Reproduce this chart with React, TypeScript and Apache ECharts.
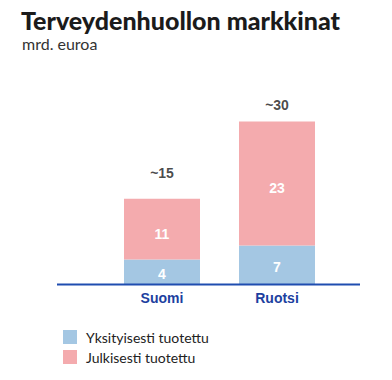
import React, { useEffect, useRef } from "react";
import * as echarts from "echarts";

const categories = ["Suomi", "Ruotsi"];
const privateValues = [4.6, 7.2];
const publicValues = [11.2, 22.8];
const privateLabels = ["4", "7"];
const publicLabels = ["11", "23"];
const totalValues = [15.8, 30];
const totalLabels = ["~15", "~30"];
const totalLabelDistance = [18, 9];
const seriesNames = ["Yksityisesti tuotettu", "Julkisesti tuotettu"];

export default function App() {
  const ref = useRef<HTMLDivElement>(null);
  useEffect(() => {
    if (!ref.current) return;
    const chart = echarts.init(ref.current, null, { renderer: "svg" });
    const blue = "#a4c7e3";
    const pink = "#f4abae";
    chart.setOption({
      animation: false,
      title: [
        {
          text: "Terveydenhuollon markkinat",
          left: 16,
          top: 2,
          textStyle: { fontFamily: "Lato", fontSize: 25, fontWeight: 900, color: "#1b1b1b" },
        },
        {
          text: "mrd. euroa",
          left: 17,
          top: 30,
          textStyle: { fontFamily: "Lato", fontSize: 16, fontWeight: "normal", color: "#333" },
        },
      ],
      legend: {
        orient: "vertical",
        left: 58,
        top: 325,
        itemWidth: 14,
        itemHeight: 14,
        itemGap: 6,
        icon: "rect",
        data: seriesNames,
        textStyle: { fontFamily: "Lato", fontSize: 14, color: "#222", padding: [0, 0, 0, 4] },
      },
      grid: { left: 104.5, right: 392 - 334.5, top: 121.5, bottom: 380 - 284.5 },
      xAxis: {
        type: "category",
        data: categories,
        axisLine: { show: false },
        axisTick: { show: false },
        axisLabel: {
          margin: 6,
          color: "#1d3f9f",
          fontFamily: "Liberation Sans",
          fontWeight: "bold",
          fontSize: 14,
        },
      },
      yAxis: { type: "value", min: 0, max: 30, show: false, splitLine: { show: false } },
      series: [
        {
          name: seriesNames[0],
          type: "bar",
          stack: "t",
          barWidth: 76,
          itemStyle: { color: blue },
          data: privateValues,
          label: {
            show: true,
            position: "inside",
            offset: [0, 2],
            formatter: (p: any) => privateLabels[p.dataIndex],
            color: "#fff",
            fontFamily: "Liberation Sans",
            fontWeight: "bold",
            fontSize: 14,
          },
        },
        {
          name: seriesNames[1],
          type: "bar",
          stack: "t",
          barWidth: 76,
          itemStyle: { color: pink },
          data: publicValues,
          label: {
            show: true,
            position: "inside",
            offset: [0, 5],
            formatter: (p: any) => publicLabels[p.dataIndex],
            color: "#fff",
            fontFamily: "Liberation Sans",
            fontWeight: "bold",
            fontSize: 14,
          },
        },
        {
          name: "total",
          type: "scatter",
          symbolSize: 1,
          itemStyle: { color: "transparent" },
          silent: true,
          data: totalValues.map((v, i) => ({
            value: v,
            label: { distance: totalLabelDistance[i] },
          })),
          label: {
            show: true,
            position: "top",
            formatter: (p: any) => totalLabels[p.dataIndex],
            color: "#1a1a1a",
            fontFamily: "Liberation Sans",
            fontWeight: "bold",
            fontSize: 14,
          },
        },
      ],
      graphic: [
        {
          type: "line",
          z: 100,
          shape: { x1: 57, y1: 284.5, x2: 360, y2: 284.5 },
          style: { stroke: "#1f4db0", lineWidth: 2 },
        },
      ],
    });
    return () => chart.dispose();
  }, []);
  return (
    <div
      ref={ref}
      style={{ position: "absolute", left: 0, top: 0, width: 392, height: 380 }}
    />
  );
}
